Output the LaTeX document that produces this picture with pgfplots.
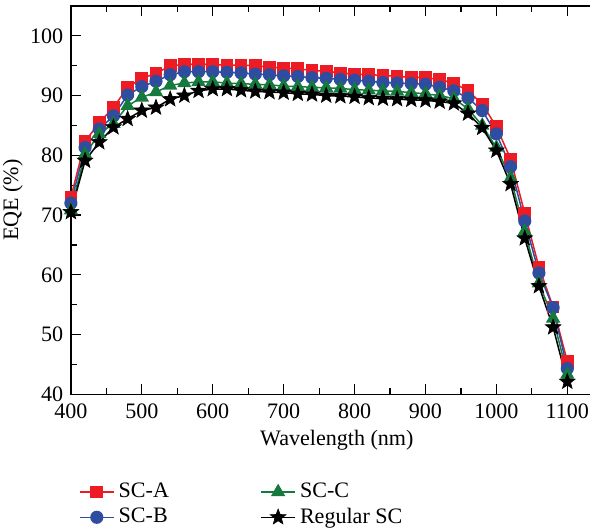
\documentclass[border=0pt]{standalone}
\usepackage{pgfplots}
\pgfplotsset{compat=1.18}
\usepackage{fontspec}
\setmainfont{Liberation Serif}
\definecolor{cA}{RGB}{237,28,36}
\definecolor{cB}{RGB}{46,76,160}
\definecolor{cC}{RGB}{22,122,62}
\pgfdeclareplotmark{fstar}{%
  \pgfpathmoveto{\pgfpointpolar{90}{\pgfplotmarksize}}%
  \pgfpathlineto{\pgfpointpolar{126}{0.42\pgfplotmarksize}}%
  \pgfpathlineto{\pgfpointpolar{162}{\pgfplotmarksize}}%
  \pgfpathlineto{\pgfpointpolar{198}{0.42\pgfplotmarksize}}%
  \pgfpathlineto{\pgfpointpolar{234}{\pgfplotmarksize}}%
  \pgfpathlineto{\pgfpointpolar{270}{0.42\pgfplotmarksize}}%
  \pgfpathlineto{\pgfpointpolar{306}{\pgfplotmarksize}}%
  \pgfpathlineto{\pgfpointpolar{342}{0.42\pgfplotmarksize}}%
  \pgfpathlineto{\pgfpointpolar{18}{\pgfplotmarksize}}%
  \pgfpathlineto{\pgfpointpolar{54}{0.42\pgfplotmarksize}}%
  \pgfpathclose
  \pgfusepathqfillstroke
}
\pgfplotstableread{
x A B C R
400 73.0 72.0 70.8 70.5
420 82.3 81.3 80.2 79.1
440 85.5 84.4 83.6 82.2
460 88.0 86.6 85.3 84.7
480 91.4 90.1 88.3 86.1
500 92.9 91.5 89.7 87.5
520 93.7 92.4 90.6 88.0
540 95.0 93.5 91.7 89.4
560 95.2 94.0 92.1 90.0
580 95.3 94.0 92.3 90.8
600 95.2 94.0 92.3 91.1
620 95.1 93.9 92.1 91.1
640 95.1 93.8 92.0 90.9
660 95.0 93.6 91.9 90.7
680 94.8 93.5 91.8 90.6
700 94.6 93.3 91.6 90.5
720 94.5 93.2 91.5 90.3
740 94.2 93.0 91.4 90.2
760 94.1 92.9 91.3 90.0
780 93.8 92.7 91.2 89.9
800 93.6 92.6 91.0 89.8
820 93.5 92.4 90.9 89.6
840 93.4 92.2 90.8 89.5
860 93.2 92.1 90.7 89.4
880 93.1 92.0 90.5 89.3
900 93.0 91.9 90.3 89.2
920 92.7 91.4 90.0 89.0
940 92.1 90.8 89.5 88.7
960 90.8 89.6 87.8 87.0
980 88.6 87.5 85.0 84.6
1000 84.8 83.6 81.3 80.8
1020 79.4 78.1 76.2 75.2
1040 70.3 69.0 67.3 66.1
1060 61.3 60.3 58.6 58.1
1080 54.6 54.5 52.7 51.2
1100 45.5 44.3 43.3 42.1
}\data
\begin{document}
\fontsize{11}{13}\selectfont
\begin{tikzpicture}
\begin{axis}[
  scale only axis,
  width=265.1pt, height=193.5pt,
  xmin=400, xmax=1150, ymin=40, ymax=105,
  xtick={400,500,...,1100}, ytick={40,50,...,100},
  minor x tick num=1, minor y tick num=1,
  tick align=inside,
  major tick length=5pt, minor tick length=3pt,
  tick style={black, line width=0.6pt},
  axis line style={line width=0.7pt},
  /pgf/number format/assume math mode=true,
  /pgf/number format/1000 sep={},
  ticklabel style={font=\fontsize{11}{13}\selectfont},
  xticklabel style={yshift=-1pt},
  xlabel={Wavelength (nm)}, ylabel={EQE (\%)},
  xlabel style={yshift=2pt},
  ylabel style={yshift=-4pt},
  clip=false,
  legend columns=2, transpose legend,
  legend style={draw=none, fill=none, at={(rel axis cs:0.003,-0.207)}, anchor=north west,
    font=\fontsize{11}{13}\selectfont, row sep=-0.5pt,
    /tikz/column 2/.style={column sep=43.5pt}},
  legend cell align=left,
  every axis plot/.append style={line width=0.75pt},
]
\addplot[cA, mark=square*, mark size=2.8pt, mark options={solid}] table[x=x,y=A] {\data};
\addlegendentry{SC-A}
\addplot[cB, mark=*, mark size=2.9pt] table[x=x,y=B] {\data};
\addlegendentry{SC-B}
\addplot[cC, mark=triangle*, mark size=3.4pt] table[x=x,y=C] {\data};
\addlegendentry{SC-C}
\addplot[black, mark=fstar, mark size=4.1pt, mark options={fill=black, line width=0.3pt}] table[x=x,y=R] {\data};
\addlegendentry{Regular SC}
\coordinate (bbl) at (rel axis cs:-0.1333,-0.349);
\coordinate (btr) at (rel axis cs:0.976,1.0155);
\end{axis}
\pgfresetboundingbox
\path[use as bounding box] (bbl) rectangle (btr);
\end{tikzpicture}
\end{document}
